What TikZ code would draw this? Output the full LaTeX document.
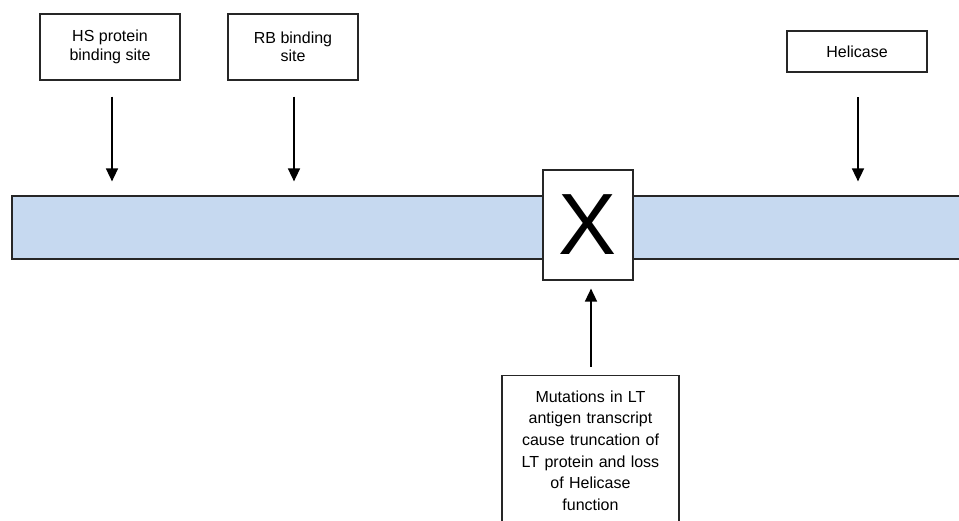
\documentclass[tikz,border=0pt]{standalone}
\usepackage{fontspec}
\setmainfont{Liberation Sans}
\usetikzlibrary{arrows.meta}
\definecolor{barblue}{HTML}{C6D9F0}
\begin{document}
\begin{tikzpicture}[x=1pt,y=1pt,
  lbl/.style={draw=black!85,line width=1.2pt,fill=white,align=center,inner sep=0pt,
    font=\fontsize{16}{18.3}\selectfont},
  arr/.style={line width=1.6pt,-{Triangle[width=12pt,length=13pt]}}]
\useasboundingbox (0,0) rectangle (959,521);
\node[draw=black!85,line width=1.2pt,fill=barblue,minimum width=956,minimum height=63,inner sep=0pt] (bar) at (490,293.5) {};
\node[lbl,minimum width=140,minimum height=66] (hs) at (110,474) {HS protein\\binding site};
\node[lbl,minimum width=130,minimum height=66] (rb) at (293,474) {RB binding\\site};
\node[lbl,minimum width=140,minimum height=41] (hel) at (857,469.5) {Helicase};
\node[lbl,minimum width=90,minimum height=110,font=\fontsize{87}{87}\selectfont] (xbox) at (588,296) {\raisebox{-3.5pt}{X}};
\node[lbl,anchor=north,minimum width=177,minimum height=150,text width=170,
  font=\fontsize{16}{21.7}\selectfont] (mut) at (590.5,146)
  {Mutations in LT\\antigen transcript\\cause truncation of\\LT protein and loss\\of Helicase\\function};
\draw[arr] ([xshift=2pt,yshift=-16pt]hs.south) -- ([xshift=2pt,yshift=14pt]bar.north -| hs.south);
\draw[arr] ([xshift=1pt,yshift=-16pt]rb.south) -- ([xshift=1pt,yshift=14pt]bar.north -| rb.south);
\draw[arr] ([xshift=1pt,yshift=-24.5pt]hel.south) -- ([xshift=1pt,yshift=14pt]bar.north -| hel.south);
\draw[arr] ([xshift=0.5pt,yshift=8pt]mut.north) -- ([xshift=3pt,yshift=-8pt]xbox.south);
\end{tikzpicture}
\end{document}
